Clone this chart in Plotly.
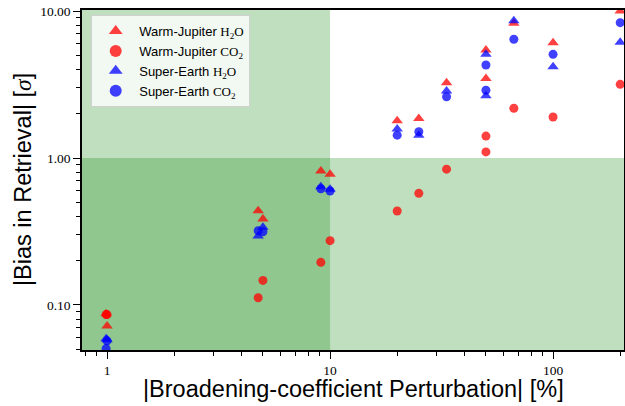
import math
import plotly.graph_objects as go

# ---------------- data ----------------
pert = [0.99, 1, 4.76, 5, 9.09, 10, 20, 25, 33.3, 50, 50, 66.7, 100, 200]

wj_h2o = [0.087, 0.072, 0.438, 0.385, 0.816, 0.775, 1.79, 1.86, 3.25, 5.43, 3.48, 8.25, 6.09, 10.0]
wj_co2 = [0.086, 0.086, 0.112, 0.147, 0.195, 0.274, 0.436, 0.575, 0.84, 1.41, 1.10, 2.18, 1.90, 3.17]
se_h2o = [0.059, 0.058, 0.295, 0.338, 0.638, 0.612, 1.575, 1.43, 2.86, 5.07, 2.65, 8.6, 4.18, 6.12]
se_co2 = [0.0505, 0.057, 0.32, 0.315, 0.618, 0.596, 1.43, 1.51, 2.61, 4.29, 2.89, 6.42, 5.07, 8.33]

series_names = [
    "Warm-Jupiter <span style='font-family:\"Liberation Serif\",serif'>H<sub>2</sub>O</span>",
    "Warm-Jupiter <span style='font-family:\"Liberation Serif\",serif'>CO<sub>2</sub></span>",
    "Super-Earth <span style='font-family:\"Liberation Serif\",serif'>H<sub>2</sub>O</span>",
    "Super-Earth <span style='font-family:\"Liberation Serif\",serif'>CO<sub>2</sub></span>",
]
series_values = [wj_h2o, wj_co2, se_h2o, se_co2]
series_colors = ["rgba(255,0,0,0.75)", "rgba(255,0,0,0.75)", "rgba(0,0,255,0.75)", "rgba(0,0,255,0.75)"]
series_symbols = ["triangle-up", "circle", "triangle-up", "circle"]

x_title = "|Broadening-coefficient Perturbation| [%]"
y_title = "|Bias in Retrieval| [<i style='font-family:\"Liberation Serif\",serif'>σ</i>]"

x_threshold = 10
y_threshold = 1
x_range = [0.772, 208]
y_range = [0.0494, 10.16]

y_tickvals = [0.1, 1, 10]
y_ticktext = ["0.10", "1.00", "10.00"]
x_tickvals = [1, 10, 100]
x_ticktext = ["1", "10", "100"]

x_minor = [0.8, 0.9, 2, 3, 4, 5, 6, 7, 8, 9, 20, 30, 40, 50, 60, 70, 80, 90, 200]
y_minor = [0.05, 0.06, 0.07, 0.08, 0.09, 0.2, 0.3, 0.4, 0.5, 0.6, 0.7, 0.8, 0.9,
           2, 3, 4, 5, 6, 7, 8, 9]

fig = go.Figure()

green = "rgba(0,128,0,0.25)"
# shaded regions (x < threshold, y < threshold)
fig.add_trace(go.Scatter(
    x=[x_range[0] * 0.5, x_threshold, x_threshold, x_range[0] * 0.5, x_range[0] * 0.5],
    y=[y_range[0] * 0.5, y_range[0] * 0.5, y_range[1] * 2, y_range[1] * 2, y_range[0] * 0.5],
    fill="toself", fillcolor=green, mode="none", showlegend=False, hoverinfo="skip"))
fig.add_trace(go.Scatter(
    x=[x_range[0] * 0.5, x_range[1] * 2, x_range[1] * 2, x_range[0] * 0.5, x_range[0] * 0.5],
    y=[y_range[0] * 0.5, y_range[0] * 0.5, y_threshold, y_threshold, y_range[0] * 0.5],
    fill="toself", fillcolor=green, mode="none", showlegend=False, hoverinfo="skip"))

for name, vals, col, sym in zip(series_names, series_values, series_colors, series_symbols):
    fig.add_trace(go.Scatter(
        x=pert, y=vals, mode="markers", name=name,
        marker=dict(symbol=sym, color=col, size=10 if sym == "triangle-up" else 9,
                    line=dict(width=0)),
    ))

tickfont = dict(family="Liberation Serif, serif", size=13.5, color="black")
titlefont = dict(family="Liberation Sans, sans-serif", size=23.5, color="black")

fig.update_layout(
    width=625, height=406,
    margin=dict(l=82, r=1, t=10, b=56, autoexpand=False),
    paper_bgcolor="white", plot_bgcolor="white",
    showlegend=True,
    legend=dict(x=0.017, y=0.985, xanchor="left", yanchor="top",
                bgcolor="rgba(255,255,255,0.8)", bordercolor="#d0d0d0", borderwidth=1,
                font=dict(family="Liberation Sans, sans-serif", size=13, color="black"),
                tracegroupgap=0, itemsizing="constant", itemwidth=37),
    annotations=[
        dict(text=x_title, xref="paper", yref="paper", x=0.5, y=0, xanchor="center",
             yanchor="middle", yshift=-39, showarrow=False, font=titlefont),
        dict(text=y_title, xref="paper", yref="paper", x=0, y=0.5, xanchor="center",
             yanchor="middle", xshift=-59, textangle=-90, showarrow=False, font=titlefont),
    ],
)

fig.update_xaxes(
    type="log", range=[math.log10(v) for v in x_range], automargin=False,
    tickvals=x_tickvals, ticktext=x_ticktext, tickfont=tickfont,
    ticks="outside", ticklen=7, tickwidth=1.2, tickcolor="black",
    showgrid=False, zeroline=False,
    showline=True, linecolor="black", linewidth=1.5, mirror=True,
    minor=dict(tickvals=x_minor, ticks="outside", ticklen=4, tickwidth=1, tickcolor="black", showgrid=False),
)
fig.update_yaxes(
    type="log", range=[math.log10(v) for v in y_range], automargin=False,
    tickvals=y_tickvals, ticktext=y_ticktext, tickfont=tickfont,
    ticks="outside", ticklen=7, tickwidth=1.2, tickcolor="black",
    showgrid=False, zeroline=False,
    showline=True, linecolor="black", linewidth=1.5, mirror=True,
    minor=dict(tickvals=y_minor, ticks="outside", ticklen=4, tickwidth=1, tickcolor="black", showgrid=False),
)

fig.write_html("out.html", config={"displayModeBar": False},
               post_script="document.body.style.margin='0';document.body.style.padding='0';")
